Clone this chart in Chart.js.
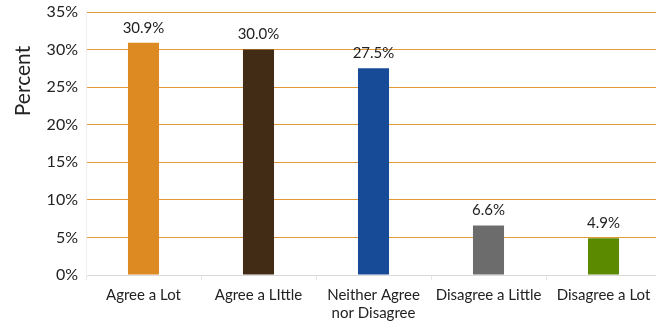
<!DOCTYPE html>
<html>
<head>
<meta charset="utf-8">
<script src="https://cdn.jsdelivr.net/npm/chart.js@4"></script>
<style>
  html, body { margin: 0; padding: 0; background: #fff; overflow: hidden; }
  #wrap { width: 662px; height: 330px; position: relative; }
</style>
</head>
<body>
<div id="wrap"><canvas id="agreeChart"></canvas></div>
<script>
// Survey responses, percent of respondents
const categories = ['Agree a Lot', 'Agree a LIttle', ['Neither Agree', 'nor Disagree'], 'Disagree a Little', 'Disagree a Lot'];
const percents = [30.9, 30.0, 27.5, 6.6, 4.9];
const barColors = ['#DC8A21', '#432C16', '#174B98', '#6C6C6C', '#5B8A00'];
const yTicks = [0, 5, 10, 15, 20, 25, 30, 35];

const fontFamily = 'Lato, "Open Sans", sans-serif';

// Writes the value above each bar and the rotated axis title
const labelPlugin = {
    id: 'barLabels',
    afterDatasetsDraw(chart) {
        const ctx = chart.ctx;
        const meta = chart.getDatasetMeta(0);
        ctx.save();
        ctx.fillStyle = '#222';
        ctx.font = '15px ' + fontFamily;
        ctx.textAlign = 'center';
        ctx.textBaseline = 'middle';
        meta.data.forEach((bar, i) => {
            ctx.fillText(percents[i].toFixed(1) + '%', bar.x, bar.y - 15);
        });

        ctx.translate(23, 81);
        ctx.rotate(-Math.PI / 2);
        ctx.font = '21px ' + fontFamily;
        ctx.fillText('Percent', 0, 0);
        ctx.restore();
    }
};

const ctx = document.getElementById('agreeChart').getContext('2d');
const agreeChart = new Chart(ctx, {
    type: 'bar',
    data: {
        labels: categories,
        datasets: [{
            data: percents,
            backgroundColor: barColors,
            barPercentage: 0.27,
            categoryPercentage: 1.0
        }]
    },
    options: {
        responsive: true,
        maintainAspectRatio: false,
        animation: false,
        layout: { padding: { top: 12, right: 1, left: 0, bottom: 0 } },
        plugins: {
            legend: { display: false },
            tooltip: { enabled: false }
        },
        scales: {
            x: {
                grid: {
                    offset: true,
                    drawOnChartArea: false,
                    drawTicks: true,
                    tickLength: 5,
                    color: '#E6E6E6'
                },
                border: { display: false },
                ticks: {
                    color: '#222',
                    font: { family: fontFamily, size: 15 },
                    padding: 6,
                    maxRotation: 0,
                    autoSkip: false
                },
                afterFit(scale) { scale.height = 55; }
            },
            y: {
                min: 0,
                max: 35,
                afterBuildTicks(scale) {
                    scale.ticks = yTicks.map(v => ({ value: v }));
                },
                grid: {
                    drawTicks: false,
                    color: c => c.index === 0 ? '#D9D9D9' : '#E39A34',
                    lineWidth: 1
                },
                border: { display: true, color: '#F0F0F0' },
                ticks: {
                    color: '#222',
                    font: { family: fontFamily, size: 16 },
                    padding: 8,
                    callback: v => v + '%'
                },
                afterFit(scale) {
                    scale.width = 86;
                    scale.paddingTop = 0;
                    scale.paddingBottom = 0;
                }
            }
        }
    },
    plugins: [labelPlugin]
});
</script>
</body>
</html>
